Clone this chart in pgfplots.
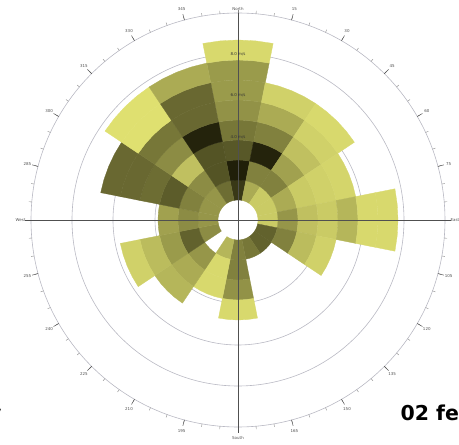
\documentclass[border=0pt]{standalone}
\usepackage{pgfplots}
\usepackage{pgfplotstable}
\pgfplotsset{compat=1.18}
\usepackage{fontspec}
\setmainfont{DejaVu Sans}
\definecolor{pale}{RGB}{233,234,118}
\definecolor{dark}{RGB}{26,25,6}
\definecolor{ringgray}{RGB}{185,185,195}
\definecolor{axgray}{RGB}{80,80,80}

% darkness of each cell (0 = pale yellow, 100 = black), -1 = empty
% dir = compass direction of the sector, k1..k8 = radial bins
\pgfplotstableread{
dir   k1 k2 k3 k4 k5 k6 k7 k8
0     85 97 70 55 42 38 38 8
22.5  30 50 95 50 30 12 -1 -1
45    15 50 35 20 12 8  -1 -1
67.5  15 30 15 12 10 -1 -1 -1
90    15 40 20 15 25 8  8  -1
112.5 65 50 22 12 -1 -1 -1 -1
135   65 -1 -1 -1 -1 -1 -1 -1
157.5 55 -1 -1 -1 -1 -1 -1 -1
180   50 50 42 8  -1 -1 -1 -1
202.5 25 8  8  -1 -1 -1 -1 -1
225   -1 40 30 25 -1 -1 -1 -1
247.5 45 65 38 22 12 -1 -1 -1
270   40 45 35 -1 -1 -1 -1 -1
292.5 40 50 68 60 62 62 -1 -1
315   40 45 20 45 55 5  5  -1
337.5 60 72 72 95 62 62 30 -1
}\windtab

\begin{document}
\begin{tikzpicture}
\begin{axis}[name=ax, hide axis, clip=false, x=20pt, y=20pt,
  xmin=-11.9, xmax=11.05, ymin=-11.25, ymax=11]
\coordinate (O) at (axis cs:0,0);
\draw[ringgray, line width=0.6pt] (axis cs:0,0) circle[radius=83pt];
\draw[ringgray, line width=0.6pt] (axis cs:0,0) circle[radius=125pt];
\draw[ringgray, line width=0.6pt] (axis cs:0,0) circle[radius=166pt];
\draw[ringgray, line width=0.6pt] (axis cs:0,0) circle[radius=207pt];
\foreach \row in {0,...,15}{%
  \pgfplotstablegetelem{\row}{dir}\of\windtab
  \let\dir\pgfplotsretval
  \foreach \k in {1,...,8}{%
    \pgfplotstablegetelem{\row}{k\k}\of\windtab
    \let\val\pgfplotsretval
    \ifdim\val pt<0pt\relax\else
      \pgfmathsetmacro\aa{90-\dir+11.25}%
      \pgfmathsetmacro\ab{90-\dir+5.625}%
      \pgfmathsetmacro\ac{90-\dir}%
      \pgfmathsetmacro\ad{90-\dir-5.625}%
      \pgfmathsetmacro\ae{90-\dir-11.25}%
      \pgfmathsetmacro\rout{\k+1}%
      \edef\temp{\noexpand\addplot[data cs=polar, fill=dark!\val!pale,
        draw=dark!\val!pale, line width=0.3pt, forget plot] coordinates
        {(\aa,\k) (\ab,\k) (\ac,\k) (\ad,\k) (\ae,\k)
         (\ae,\rout) (\ad,\rout) (\ac,\rout) (\ab,\rout) (\aa,\rout)} -- cycle;}%
      \temp
    \fi
  }%
}
\draw[axgray, line width=0.6pt] (axis cs:-10.4,0) -- (axis cs:10.5,0);
\draw[axgray, line width=0.6pt] (axis cs:0,10.45) -- (axis cs:0,-10.5);
\node[anchor=base west, font=\bfseries\fontsize{20.5}{24}\selectfont]
  at (axis cs:7.95,-10.05) {02 february 2015};
\node[anchor=base east, font=\bfseries\fontsize{20.5}{24}\selectfont]
  at (axis cs:-11.65,-10.05) {Monday};
\end{axis}
\begin{scope}[shift={(O)}, font=\fontsize{4}{4}\selectfont]
  \foreach \a in {0,5,...,355}{\draw[axgray!70, line width=0.4pt] ({90-\a}:207pt) -- ({90-\a}:210pt);}
  \foreach \a in {15,30,...,345}{%
    \draw[axgray, line width=0.5pt] ({90-\a}:207pt) -- ({90-\a}:213pt);
    \ifnum\a=90\relax\else\ifnum\a=180\relax\else\ifnum\a=270\relax\else
      \node[text=axgray] at ({90-\a}:218pt) {\a};
    \fi\fi\fi
  }
  \node[text=axgray, anchor=south] at (0,206pt) {North};
  \node[text=axgray, anchor=north] at (0,-213pt) {South};
  \node[text=axgray, anchor=east] at (-209pt,0) {West};
  \node[text=axgray, anchor=west] at (209pt,0) {East};
  \node[text=black!80, inner sep=0.3pt] at (0,83pt) {4.0 m/s};
  \node[text=black!80, inner sep=0.3pt] at (0,125pt) {6.0 m/s};
  \node[text=black!80, inner sep=0.3pt] at (0,166pt) {8.0 m/s};
\end{scope}
\pgfresetboundingbox
\useasboundingbox (ax.south west) rectangle (ax.north east);
\end{tikzpicture}
\end{document}
